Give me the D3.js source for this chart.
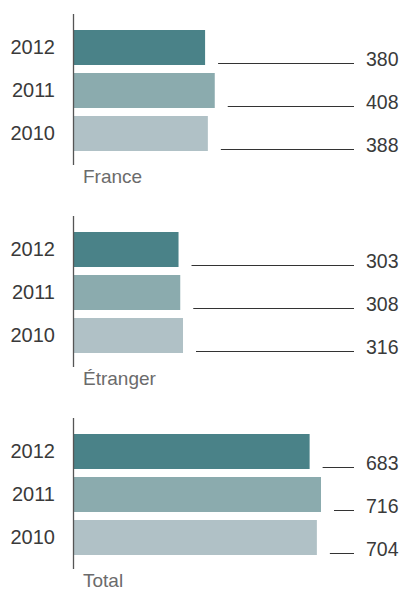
<!DOCTYPE html>
<html>
<head>
<meta charset="utf-8">
<script src="https://cdn.jsdelivr.net/npm/d3@7"></script>
<style>
	body{margin:0;background:#fff;}
	svg{display:block;font-family:"Liberation Sans",Arial,sans-serif;}
	.year text{font-size:20px;fill:#3a3a3a;}
	.value{font-size:19.5px;fill:#3a3a3a;}
	.cat{font-size:19px;fill:#6b6b6b;}
</style>
</head>
<body>
<div id="chart"></div>
<script>
//data
const years = ['2012','2011','2010'];
const panelNames = ['France','Étranger','Total'];
const france = [380,408,388];
const etranger = [303,308,316];
const total = [683,716,704];
const colors = ['#4a8288','#8babae','#b0c1c6'];

const panels = panelNames.map((name,i) => ({
	name:name,
	values:[france,etranger,total][i]
}));

const width = 401, height = 590;
const svg = d3.select('#chart').append('svg')
	.attr('width',width)
	.attr('height',height);

//scales
const scaleX = d3.scaleLinear().domain([0,716]).range([74,321]);
const scaleY = d3.scaleBand().domain(years).range([0,121]).paddingInner(8/43).paddingOuter(0);
const lineEnd = 354;

const panelG = svg.selectAll('.panel')
	.data(panels)
	.enter()
	.append('g')
	.attr('class','panel')
	.attr('transform',(d,i) => `translate(0,${30 + i*202})`);

//bars
panelG.selectAll('.bar')
	.data(d => d.values.map((v,j) => ({year:years[j],value:v,color:colors[j]})))
	.enter()
	.append('rect')
	.attr('class','bar')
	.attr('x',scaleX(0))
	.attr('y',d => scaleY(d.year))
	.attr('width',d => scaleX(d.value) - scaleX(0))
	.attr('height',scaleY.bandwidth())
	.style('fill',d => d.color);

//leader lines + value labels
panelG.selectAll('.leader')
	.data(d => d.values.map((v,j) => ({year:years[j],value:v})))
	.enter()
	.append('line')
	.attr('class','leader')
	.attr('x1',d => scaleX(d.value) + 13)
	.attr('x2',lineEnd)
	.attr('y1',d => scaleY(d.year) + scaleY.bandwidth() - 1.5)
	.attr('y2',d => scaleY(d.year) + scaleY.bandwidth() - 1.5)
	.style('stroke','#333')
	.style('stroke-width',1);

panelG.selectAll('.value')
	.data(d => d.values.map((v,j) => ({year:years[j],value:v})))
	.enter()
	.append('text')
	.attr('class','value')
	.attr('x',366)
	.attr('y',d => scaleY(d.year) + scaleY.bandwidth() + 1)
	.text(d => d.value);

//year axis
const axisY = d3.axisLeft()
	.scale(scaleY)
	.tickSize(0)
	.tickPadding(19);

panelG.append('g')
	.attr('class','year')
	.attr('transform',`translate(${scaleX(0)},0)`)
	.call(axisY)
	.call(g => g.select('.domain').remove())
	.selectAll('text')
	.attr('font-family',null)
	.attr('font-size',null);

//vertical axis line
panelG.append('line')
	.attr('x1',scaleX(0) - 0.5)
	.attr('x2',scaleX(0) - 0.5)
	.attr('y1',-16)
	.attr('y2',121 + 14)
	.style('stroke','#555')
	.style('stroke-width',1.3);

//panel name
panelG.append('text')
	.attr('class','cat')
	.attr('x',83)
	.attr('y',121 + 32)
	.text(d => d.name);
</script>
</body>
</html>
